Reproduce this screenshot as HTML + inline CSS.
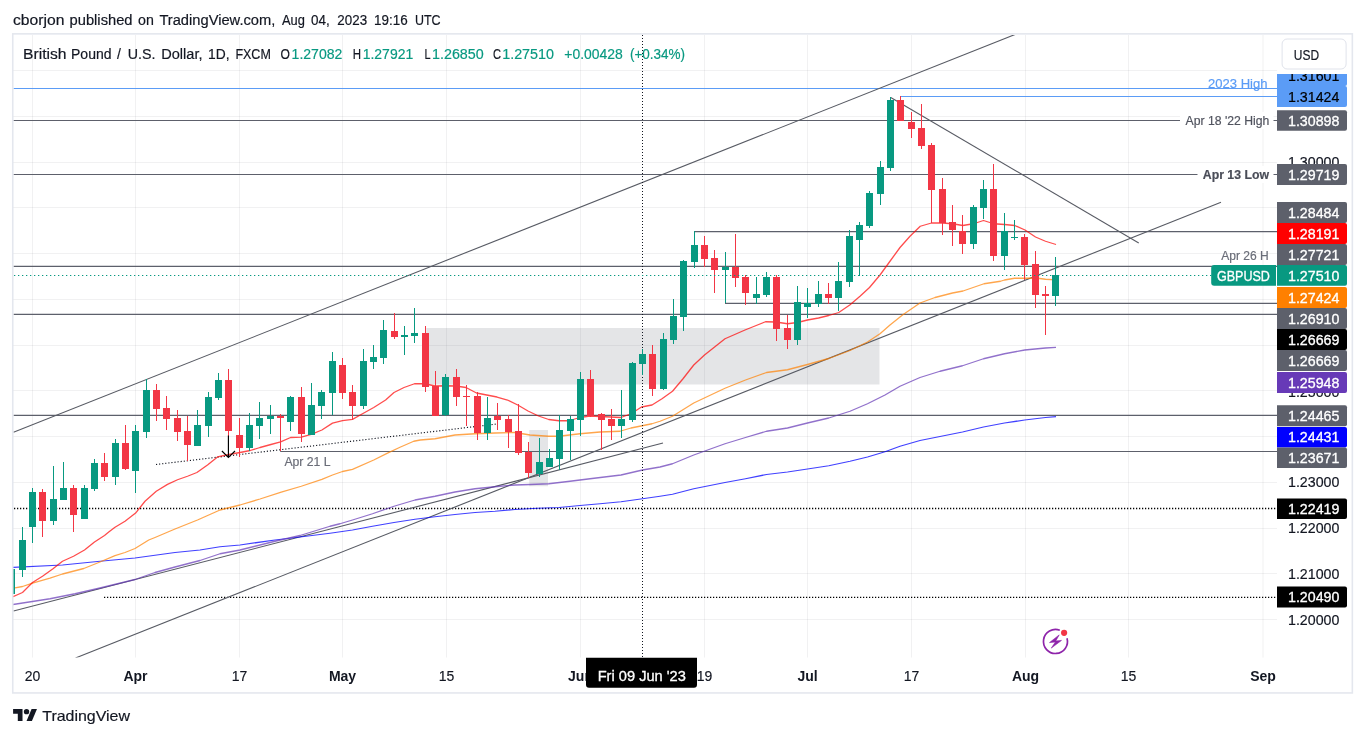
<!DOCTYPE html>
<html lang="en"><head><meta charset="utf-8"><title>GBPUSD chart</title>
<style>html,body{margin:0;padding:0;background:#fff;overflow:hidden}svg{display:block}text{font-family:"Liberation Sans",sans-serif;}</style></head><body>
<svg width="1365" height="737" viewBox="0 0 1365 737">
<rect width="1365" height="737" fill="#ffffff"/>
<defs><clipPath id="pane"><rect x="13.5" y="35.0" width="1263.5" height="622.5"/></clipPath>
<clipPath id="axclip"><rect x="1270" y="74" width="90" height="600"/></clipPath></defs>
<g id="title">
<text x="13.0" y="24.9" font-size="14" fill="#131722" stroke="#131722" stroke-width="0.18" textLength="51.4" lengthAdjust="spacingAndGlyphs">cborjon</text>
<text x="69.6" y="24.9" font-size="14" fill="#131722" stroke="#131722" stroke-width="0.18" textLength="62.9" lengthAdjust="spacingAndGlyphs">published</text>
<text x="138.0" y="24.9" font-size="14" fill="#131722" stroke="#131722" stroke-width="0.18" textLength="15.8" lengthAdjust="spacingAndGlyphs">on</text>
<text x="159.4" y="24.9" font-size="14" fill="#131722" stroke="#131722" stroke-width="0.18" textLength="115.9" lengthAdjust="spacingAndGlyphs">TradingView.com,</text>
<text x="282.0" y="24.9" font-size="14" fill="#131722" stroke="#131722" stroke-width="0.18" textLength="22.9" lengthAdjust="spacingAndGlyphs">Aug</text>
<text x="311.1" y="24.9" font-size="14" fill="#131722" stroke="#131722" stroke-width="0.18" textLength="18.7" lengthAdjust="spacingAndGlyphs">04,</text>
<text x="337.3" y="24.9" font-size="14" fill="#131722" stroke="#131722" stroke-width="0.18" textLength="29.8" lengthAdjust="spacingAndGlyphs">2023</text>
<text x="374.1" y="24.9" font-size="14" fill="#131722" stroke="#131722" stroke-width="0.18" textLength="33.6" lengthAdjust="spacingAndGlyphs">19:16</text>
<text x="415.0" y="24.9" font-size="14" fill="#131722" stroke="#131722" stroke-width="0.18" textLength="25.6" lengthAdjust="spacingAndGlyphs">UTC</text>
</g>
<rect x="12.75" y="33.85" width="1339.6" height="659.1" fill="#ffffff" stroke="#e4e7ee" stroke-width="1.6"/>
<g id="grid" stroke="#6a6d78" stroke-opacity="0.095" stroke-width="1">
<line x1="32.5" y1="35.0" x2="32.5" y2="657.5"/>
<line x1="135.5" y1="35.0" x2="135.5" y2="657.5"/>
<line x1="239.5" y1="35.0" x2="239.5" y2="657.5"/>
<line x1="342.5" y1="35.0" x2="342.5" y2="657.5"/>
<line x1="446.5" y1="35.0" x2="446.5" y2="657.5"/>
<line x1="580.5" y1="35.0" x2="580.5" y2="657.5"/>
<line x1="704.5" y1="35.0" x2="704.5" y2="657.5"/>
<line x1="807.5" y1="35.0" x2="807.5" y2="657.5"/>
<line x1="911.5" y1="35.0" x2="911.5" y2="657.5"/>
<line x1="1025.5" y1="35.0" x2="1025.5" y2="657.5"/>
<line x1="1128.5" y1="35.0" x2="1128.5" y2="657.5"/>
<line x1="1263.0" y1="35.0" x2="1263.0" y2="657.5"/>
<line x1="13.5" y1="70.5" x2="1277.0" y2="70.5"/>
<line x1="13.5" y1="116.5" x2="1277.0" y2="116.5"/>
<line x1="13.5" y1="162.5" x2="1277.0" y2="162.5"/>
<line x1="13.5" y1="207.5" x2="1277.0" y2="207.5"/>
<line x1="13.5" y1="253.5" x2="1277.0" y2="253.5"/>
<line x1="13.5" y1="299.5" x2="1277.0" y2="299.5"/>
<line x1="13.5" y1="345.5" x2="1277.0" y2="345.5"/>
<line x1="13.5" y1="390.5" x2="1277.0" y2="390.5"/>
<line x1="13.5" y1="436.5" x2="1277.0" y2="436.5"/>
<line x1="13.5" y1="482.5" x2="1277.0" y2="482.5"/>
<line x1="13.5" y1="528.5" x2="1277.0" y2="528.5"/>
<line x1="13.5" y1="573.5" x2="1277.0" y2="573.5"/>
<line x1="13.5" y1="619.5" x2="1277.0" y2="619.5"/>
</g>
<g clip-path="url(#pane)">
<rect x="426.3" y="328" width="453.2" height="56.5" fill="#787b86" fill-opacity="0.2"/>
<rect x="529.25" y="430" width="18.75" height="56.25" fill="#787b86" fill-opacity="0.2"/>
<line x1="13.5" y1="88.5" x2="1277.0" y2="88.5" stroke="#5b9cf6" stroke-width="1.15"/>
<line x1="900.5" y1="96.5" x2="1277.0" y2="96.5" stroke="#5b9cf6" stroke-width="1.15"/>
<line x1="13.5" y1="120.5" x2="1277.0" y2="120.5" stroke="#5d606b" stroke-width="1.15"/>
<line x1="13.5" y1="174.5" x2="1277.0" y2="174.5" stroke="#5d606b" stroke-width="1.15"/>
<line x1="694" y1="231.6" x2="1277.0" y2="231.6" stroke="#5d606b" stroke-width="1.15"/>
<line x1="13.5" y1="266.3" x2="1277.0" y2="266.3" stroke="#5d606b" stroke-width="1.15"/>
<line x1="725" y1="303.4" x2="1277.0" y2="303.4" stroke="#5d606b" stroke-width="1.15"/>
<line x1="13.5" y1="314.4" x2="1277.0" y2="314.4" stroke="#5d606b" stroke-width="1.15"/>
<line x1="13.5" y1="415.4" x2="1277.0" y2="415.4" stroke="#5d606b" stroke-width="1.15"/>
<line x1="280.2" y1="451.5" x2="1277.0" y2="451.5" stroke="#5d606b" stroke-width="1.15"/>
<line x1="14" y1="508.5" x2="1277.0" y2="508.5" stroke="#000" stroke-width="1.3" stroke-dasharray="1.25 1.75"/>
<line x1="104" y1="597.4" x2="1277.0" y2="597.4" stroke="#000" stroke-width="1.3" stroke-dasharray="1.25 1.75"/>
<line x1="13.5" y1="432.3" x2="1018.8" y2="33" stroke="#585b64" stroke-width="1.1"/>
<line x1="75.5" y1="658" x2="1221" y2="202.3" stroke="#585b64" stroke-width="1.1"/>
<line x1="13.5" y1="611" x2="663" y2="443" stroke="#585b64" stroke-width="1.1"/>
<line x1="890.75" y1="97.5" x2="1138.75" y2="243" stroke="#585b64" stroke-width="1.1"/>
<line x1="156" y1="464.5" x2="497.5" y2="423.9" stroke="#131722" stroke-width="1.15" stroke-dasharray="1.15 1.95"/>
<polyline fill="none" stroke="#0000ff" stroke-width="1.25" stroke-opacity="0.75" stroke-linejoin="round" points="13,567.5 62.5,565 100,561.25 135,558 175,552.5 200,550 220,546.75 240,545 275,540 300,537 330,533.25 352.5,530 372.5,526.25 394,522.5 415,519.25 435,516.75 455,514.5 475,512.5 495,511.25 515,509.5 537.5,508.25 559,507.5 580,505.5 600,503.75 621,501.75 642.5,498.75 660,496.25 672.5,494.25 693.75,488.75 725,482.5 745.5,478.75 766.5,474.5 787.5,472 807.5,469 828.75,465.75 850,461.25 867.5,457 885,451.75 900,446.25 920,440.5 940,436.5 962.5,432 983.5,427 1004.5,423 1024.75,420 1045.5,417.5 1056,416.7"/>
<polyline fill="none" stroke="#673ab7" stroke-width="1.3" stroke-opacity="0.72" stroke-linejoin="round" points="13,604.5 50,598.75 75,593.75 100,588 135,579.5 155,572.5 175,567 200,560.5 220,553.75 240,550 275,541.25 300,535.5 330,526.25 340,523.75 352.5,520 372.5,513.75 394,506.25 415,500 435,496.25 455,492 475,488.75 495,486.75 515,485 530,484.5 548.75,483.75 570,481.25 590,478.75 621,475 642.5,470 660,467 672.5,463.75 693.75,455 725,443.75 745.5,437.5 766.5,431.25 787.5,428 807.5,423 828.75,418 850,411.25 867.5,403.75 885,395 900,386.25 920,377.5 940,371.25 962.5,365.75 983.5,358.75 1004.5,353.75 1024.75,350 1045.5,348 1056,347.3"/>
<polyline fill="none" stroke="#ff8000" stroke-width="1.3" stroke-opacity="0.7" stroke-linejoin="round" points="15,587.9 22.5,586.5 32.5,583.1 50,578.1 62.5,574 83.75,568.5 98.75,562.5 115,555.6 125,552.5 135,548.5 148.75,540 155,537.5 175,529 197.5,520 220,510 240,505 260,499 281.25,492.1 301.25,486.25 321.9,479.4 332.5,475 342.5,471.5 352.5,469.4 373.75,460 387.5,453.1 400,447.25 413.75,441.25 420.25,440 435,438.75 455,435 475,433.75 495,433 515,432.5 530,435 548.75,436.25 559,436.25 580,433.75 600,432 620,431.25 631,428 652,423.75 660,421.25 672.5,416.25 693.75,403 725,388.25 745.5,380 766.5,372.5 787.5,369.75 807.5,364.5 828.75,358.5 850,350.5 867.5,342 880,333.75 890,325 902.5,315 920,303 935,297.5 952.5,293 963,291 984,283.75 1000.5,281.25 1004.5,280 1014.5,278.25 1024.75,278.25 1035.75,278 1045.5,279.25 1056,279.8"/>
<polyline fill="none" stroke="#ff0000" stroke-width="1.3" stroke-opacity="0.7" stroke-linejoin="round" points="13,596.75 22.5,592.5 32.5,582.5 42.5,576.25 53,568.75 62.5,561.25 73.5,556.25 84.5,550 94.5,542 104.5,535.5 108.75,532.1 115,527.3 125,521.25 135.6,513.1 145,501.25 156.25,491.25 167.5,484.4 177.5,479.75 187.5,476.25 196.9,472.5 207.5,465 217.5,456.9 227.5,454.75 240,452.5 250.25,450.5 260,447.5 270,444.75 280.6,441.9 290.6,437.5 301.25,437.1 311.25,434.4 321.9,430 332.5,423.1 342.5,420.6 352.5,419.4 362.5,413.75 373.75,407.5 385.6,400 394,392.5 404,387.5 414.5,383.75 425,383.75 435,386 445.5,385.75 455.75,386 466,387.5 476.5,393 486.75,395 497,397 507.5,400 517.75,405 528,411 538.5,416 548.75,419.5 559,420.75 569,420.75 579.75,417.5 590,416 600,416.5 610.5,417 621,417.5 631,413.75 641.5,407 652,405 662,398.75 672.5,391.25 683,378.75 693.75,365 704.5,355 725,338.75 745,330 765.5,321.75 775.75,322 787.5,323.75 797.5,322.5 807.5,320 818.5,318 828.75,315.5 838.75,312.5 849.75,305 860,296.25 869.5,287.5 880,275 890,261.25 900,247.5 910,236.25 920.25,226.25 931.5,223 942.5,223 952.5,223.75 962.75,225.5 973.5,223.75 983.5,220.5 993.75,223.75 1004.5,224.5 1014.75,225.5 1025,230 1035.5,237 1045.5,241.25 1056,244.5"/>
<line x1="642.5" y1="35.0" x2="642.5" y2="657.5" stroke="#131722" stroke-width="1" stroke-dasharray="1 2"/>
<g id="candles" shape-rendering="crispEdges">
<rect x="11" y="565.0" width="1" height="32.0" fill="#089981"/>
<rect x="8" y="569.0" width="7" height="25.0" fill="#089981"/>
<rect x="22" y="527.0" width="1" height="50.0" fill="#089981"/>
<rect x="19" y="540.0" width="7" height="29.5" fill="#089981"/>
<rect x="32" y="488.0" width="1" height="54.5" fill="#089981"/>
<rect x="29" y="492.0" width="7" height="35.0" fill="#089981"/>
<rect x="42" y="489.0" width="1" height="48.0" fill="#f23645"/>
<rect x="39" y="492.0" width="7" height="29.0" fill="#f23645"/>
<rect x="53" y="466.0" width="1" height="59.0" fill="#089981"/>
<rect x="50" y="499.0" width="7" height="22.0" fill="#089981"/>
<rect x="63" y="462.0" width="1" height="38.0" fill="#089981"/>
<rect x="60" y="488.0" width="7" height="12.0" fill="#089981"/>
<rect x="73" y="485.0" width="1" height="47.0" fill="#f23645"/>
<rect x="70" y="488.0" width="7" height="27.0" fill="#f23645"/>
<rect x="84" y="485.0" width="1" height="34.0" fill="#089981"/>
<rect x="81" y="488.0" width="7" height="31.0" fill="#089981"/>
<rect x="94" y="459.0" width="1" height="32.0" fill="#089981"/>
<rect x="91" y="463.0" width="7" height="26.0" fill="#089981"/>
<rect x="104" y="453.0" width="1" height="28.0" fill="#f23645"/>
<rect x="101" y="463.0" width="7" height="14.0" fill="#f23645"/>
<rect x="115" y="439.0" width="1" height="46.0" fill="#089981"/>
<rect x="112" y="443.0" width="7" height="34.0" fill="#089981"/>
<rect x="125" y="425.0" width="1" height="45.0" fill="#f23645"/>
<rect x="122" y="443.0" width="7" height="26.0" fill="#f23645"/>
<rect x="135" y="425.0" width="1" height="68.0" fill="#089981"/>
<rect x="132" y="431.0" width="7" height="40.0" fill="#089981"/>
<rect x="146" y="379.0" width="1" height="59.0" fill="#089981"/>
<rect x="143" y="390.0" width="7" height="42.0" fill="#089981"/>
<rect x="156" y="384.0" width="1" height="37.0" fill="#f23645"/>
<rect x="153" y="390.0" width="7" height="19.0" fill="#f23645"/>
<rect x="166" y="396.0" width="1" height="34.0" fill="#f23645"/>
<rect x="163" y="408.0" width="7" height="11.0" fill="#f23645"/>
<rect x="177" y="410.0" width="1" height="31.0" fill="#f23645"/>
<rect x="174" y="418.0" width="7" height="14.0" fill="#f23645"/>
<rect x="187" y="416.0" width="1" height="45.0" fill="#f23645"/>
<rect x="184" y="431.0" width="7" height="14.0" fill="#f23645"/>
<rect x="197" y="410.0" width="1" height="35.5" fill="#089981"/>
<rect x="194" y="425.0" width="7" height="20.5" fill="#089981"/>
<rect x="208" y="392.0" width="1" height="45.0" fill="#089981"/>
<rect x="205" y="397.0" width="7" height="29.0" fill="#089981"/>
<rect x="218" y="373.0" width="1" height="27.0" fill="#089981"/>
<rect x="215" y="380.0" width="7" height="18.0" fill="#089981"/>
<rect x="228" y="369.0" width="1" height="67.0" fill="#f23645"/>
<rect x="225" y="380.0" width="7" height="51.0" fill="#f23645"/>
<rect x="239" y="418.0" width="1" height="39.0" fill="#f23645"/>
<rect x="236" y="435.0" width="7" height="13.0" fill="#f23645"/>
<rect x="249" y="413.0" width="1" height="38.0" fill="#089981"/>
<rect x="246" y="425.0" width="7" height="23.0" fill="#089981"/>
<rect x="259" y="402.0" width="1" height="37.0" fill="#089981"/>
<rect x="256" y="418.0" width="7" height="8.0" fill="#089981"/>
<rect x="270" y="405.0" width="1" height="29.0" fill="#089981"/>
<rect x="267" y="416.0" width="7" height="3.0" fill="#089981"/>
<rect x="280" y="413.75" width="1" height="36.85" fill="#f23645"/>
<rect x="277" y="415.6" width="7" height="2.15" fill="#f23645"/>
<rect x="290" y="396.0" width="1" height="35.0" fill="#089981"/>
<rect x="287" y="397.0" width="7" height="25.0" fill="#089981"/>
<rect x="301" y="387.0" width="1" height="55.0" fill="#f23645"/>
<rect x="298" y="397.0" width="7" height="37.0" fill="#f23645"/>
<rect x="311" y="383.0" width="1" height="51.5" fill="#089981"/>
<rect x="308" y="405.0" width="7" height="29.5" fill="#089981"/>
<rect x="321" y="390.0" width="1" height="29.0" fill="#089981"/>
<rect x="318" y="392.0" width="7" height="14.0" fill="#089981"/>
<rect x="332" y="352.0" width="1" height="63.0" fill="#089981"/>
<rect x="329" y="361.0" width="7" height="32.0" fill="#089981"/>
<rect x="342" y="358.0" width="1" height="41.0" fill="#f23645"/>
<rect x="339" y="365.0" width="7" height="28.0" fill="#f23645"/>
<rect x="352" y="385.0" width="1" height="35.0" fill="#f23645"/>
<rect x="349" y="392.0" width="7" height="14.0" fill="#f23645"/>
<rect x="363" y="349.0" width="1" height="60.0" fill="#089981"/>
<rect x="360" y="361.0" width="7" height="45.0" fill="#089981"/>
<rect x="373" y="345.0" width="1" height="24.0" fill="#089981"/>
<rect x="370" y="357.0" width="7" height="5.0" fill="#089981"/>
<rect x="383" y="320.0" width="1" height="44.0" fill="#089981"/>
<rect x="380" y="330.0" width="7" height="28.0" fill="#089981"/>
<rect x="394" y="313.0" width="1" height="26.0" fill="#f23645"/>
<rect x="391" y="331.0" width="7" height="6.0" fill="#f23645"/>
<rect x="404" y="326.0" width="1" height="29.0" fill="#089981"/>
<rect x="401" y="335.0" width="7" height="2.0" fill="#089981"/>
<rect x="414" y="308.0" width="1" height="35.0" fill="#089981"/>
<rect x="411" y="333.0" width="7" height="3.0" fill="#089981"/>
<rect x="425" y="326.0" width="1" height="66.0" fill="#f23645"/>
<rect x="422" y="333.0" width="7" height="54.0" fill="#f23645"/>
<rect x="435" y="371.0" width="1" height="44.5" fill="#f23645"/>
<rect x="432" y="386.0" width="7" height="29.5" fill="#f23645"/>
<rect x="445" y="374.0" width="1" height="42.0" fill="#089981"/>
<rect x="442" y="377.0" width="7" height="37.5" fill="#089981"/>
<rect x="456" y="369.0" width="1" height="37.0" fill="#f23645"/>
<rect x="453" y="377.0" width="7" height="20.0" fill="#f23645"/>
<rect x="466" y="385.0" width="1" height="41.0" fill="#f23645"/>
<rect x="463" y="396.0" width="7" height="1.0" fill="#f23645"/>
<rect x="477" y="392.0" width="1" height="48.0" fill="#f23645"/>
<rect x="474" y="396.0" width="7" height="37.0" fill="#f23645"/>
<rect x="487" y="397.0" width="1" height="43.0" fill="#089981"/>
<rect x="484" y="418.0" width="7" height="15.0" fill="#089981"/>
<rect x="497" y="403.0" width="1" height="27.0" fill="#f23645"/>
<rect x="494" y="416.0" width="7" height="4.0" fill="#f23645"/>
<rect x="508" y="415.0" width="1" height="33.0" fill="#f23645"/>
<rect x="505" y="419.0" width="7" height="13.0" fill="#f23645"/>
<rect x="518" y="404.0" width="1" height="51.0" fill="#f23645"/>
<rect x="515" y="431.0" width="7" height="22.0" fill="#f23645"/>
<rect x="528" y="442.0" width="1" height="36.0" fill="#f23645"/>
<rect x="525" y="452.0" width="7" height="21.0" fill="#f23645"/>
<rect x="539" y="438.0" width="1" height="39.0" fill="#089981"/>
<rect x="536" y="462.0" width="7" height="12.0" fill="#089981"/>
<rect x="549" y="449.0" width="1" height="18.0" fill="#089981"/>
<rect x="546" y="458.0" width="7" height="9.0" fill="#089981"/>
<rect x="559" y="415.0" width="1" height="55.0" fill="#089981"/>
<rect x="556" y="430.0" width="7" height="29.0" fill="#089981"/>
<rect x="570" y="416.0" width="1" height="44.0" fill="#089981"/>
<rect x="567" y="419.0" width="7" height="12.0" fill="#089981"/>
<rect x="580" y="372.0" width="1" height="64.0" fill="#089981"/>
<rect x="577" y="379.0" width="7" height="41.0" fill="#089981"/>
<rect x="590" y="370.0" width="1" height="47.0" fill="#f23645"/>
<rect x="587" y="379.0" width="7" height="37.0" fill="#f23645"/>
<rect x="601" y="413.0" width="1" height="37.0" fill="#f23645"/>
<rect x="598" y="414.0" width="7" height="6.0" fill="#f23645"/>
<rect x="611" y="409.0" width="1" height="31.0" fill="#f23645"/>
<rect x="608" y="419.0" width="7" height="7.0" fill="#f23645"/>
<rect x="621" y="390.0" width="1" height="48.0" fill="#089981"/>
<rect x="618" y="419.0" width="7" height="7.0" fill="#089981"/>
<rect x="632" y="362.0" width="1" height="60.0" fill="#089981"/>
<rect x="629" y="363.0" width="7" height="57.0" fill="#089981"/>
<rect x="642" y="349.0" width="1" height="26.0" fill="#089981"/>
<rect x="639" y="354.0" width="7" height="10.0" fill="#089981"/>
<rect x="652" y="345.0" width="1" height="51.0" fill="#f23645"/>
<rect x="649" y="354.0" width="7" height="35.0" fill="#f23645"/>
<rect x="663" y="333.0" width="1" height="57.0" fill="#089981"/>
<rect x="660" y="339.0" width="7" height="50.0" fill="#089981"/>
<rect x="673" y="299.0" width="1" height="45.0" fill="#089981"/>
<rect x="670" y="316.0" width="7" height="24.0" fill="#089981"/>
<rect x="683" y="260.0" width="1" height="71.0" fill="#089981"/>
<rect x="680" y="261.0" width="7" height="56.0" fill="#089981"/>
<rect x="694" y="231.0" width="1" height="36.5" fill="#089981"/>
<rect x="691" y="245.0" width="7" height="17.0" fill="#089981"/>
<rect x="704" y="236.0" width="1" height="31.0" fill="#f23645"/>
<rect x="701" y="245.0" width="7" height="14.0" fill="#f23645"/>
<rect x="714" y="250.0" width="1" height="43.0" fill="#f23645"/>
<rect x="711" y="258.0" width="7" height="12.0" fill="#f23645"/>
<rect x="725" y="252.0" width="1" height="51.0" fill="#089981"/>
<rect x="722" y="267.0" width="7" height="3.0" fill="#089981"/>
<rect x="735" y="234.0" width="1" height="53.0" fill="#f23645"/>
<rect x="732" y="266.5" width="7" height="11.5" fill="#f23645"/>
<rect x="745" y="275.0" width="1" height="30.0" fill="#f23645"/>
<rect x="742" y="277.0" width="7" height="16.0" fill="#f23645"/>
<rect x="756" y="277.0" width="1" height="27.0" fill="#089981"/>
<rect x="753" y="294.0" width="7" height="4.0" fill="#089981"/>
<rect x="766" y="272.0" width="1" height="25.0" fill="#089981"/>
<rect x="763" y="277.0" width="7" height="18.0" fill="#089981"/>
<rect x="776" y="275.0" width="1" height="66.0" fill="#f23645"/>
<rect x="773" y="277.0" width="7" height="52.0" fill="#f23645"/>
<rect x="787" y="315.0" width="1" height="34.0" fill="#f23645"/>
<rect x="784" y="328.0" width="7" height="12.0" fill="#f23645"/>
<rect x="797" y="286.0" width="1" height="59.0" fill="#089981"/>
<rect x="794" y="302.0" width="7" height="38.0" fill="#089981"/>
<rect x="807" y="288.0" width="1" height="30.0" fill="#089981"/>
<rect x="804" y="303.0" width="7" height="4.0" fill="#089981"/>
<rect x="818" y="281.0" width="1" height="26.0" fill="#089981"/>
<rect x="815" y="294.0" width="7" height="10.0" fill="#089981"/>
<rect x="828" y="283.0" width="1" height="21.0" fill="#f23645"/>
<rect x="825" y="294.0" width="7" height="4.0" fill="#f23645"/>
<rect x="838" y="262.0" width="1" height="49.0" fill="#089981"/>
<rect x="835" y="281.0" width="7" height="17.0" fill="#089981"/>
<rect x="849" y="230.0" width="1" height="57.0" fill="#089981"/>
<rect x="846" y="236.0" width="7" height="46.0" fill="#089981"/>
<rect x="859" y="222.0" width="1" height="54.0" fill="#089981"/>
<rect x="856" y="225.0" width="7" height="15.0" fill="#089981"/>
<rect x="869" y="191.0" width="1" height="37.0" fill="#089981"/>
<rect x="866" y="193.0" width="7" height="33.0" fill="#089981"/>
<rect x="880" y="161.0" width="1" height="44.0" fill="#089981"/>
<rect x="877" y="167.0" width="7" height="27.0" fill="#089981"/>
<rect x="890" y="97.0" width="1" height="74.0" fill="#089981"/>
<rect x="887" y="100.0" width="7" height="68.0" fill="#089981"/>
<rect x="900" y="96.0" width="1" height="25.0" fill="#f23645"/>
<rect x="897" y="100.0" width="7" height="21.0" fill="#f23645"/>
<rect x="911" y="112.0" width="1" height="26.0" fill="#f23645"/>
<rect x="908" y="122.0" width="7" height="7.0" fill="#f23645"/>
<rect x="921" y="104.0" width="1" height="45.0" fill="#f23645"/>
<rect x="918" y="128.0" width="7" height="18.0" fill="#f23645"/>
<rect x="931" y="143.0" width="1" height="79.5" fill="#f23645"/>
<rect x="928" y="145.0" width="7" height="45.0" fill="#f23645"/>
<rect x="942" y="178.0" width="1" height="57.0" fill="#f23645"/>
<rect x="939" y="189.0" width="7" height="34.0" fill="#f23645"/>
<rect x="952" y="205.0" width="1" height="41.0" fill="#f23645"/>
<rect x="949" y="222.0" width="7" height="8.0" fill="#f23645"/>
<rect x="962" y="215.0" width="1" height="39.0" fill="#f23645"/>
<rect x="959" y="231.0" width="7" height="13.0" fill="#f23645"/>
<rect x="973" y="205.0" width="1" height="44.0" fill="#089981"/>
<rect x="970" y="207.0" width="7" height="37.0" fill="#089981"/>
<rect x="983" y="180.0" width="1" height="39.0" fill="#089981"/>
<rect x="980" y="189.0" width="7" height="19.0" fill="#089981"/>
<rect x="993" y="164.0" width="1" height="97.0" fill="#f23645"/>
<rect x="990" y="189.0" width="7" height="67.0" fill="#f23645"/>
<rect x="1004" y="213.0" width="1" height="57.0" fill="#089981"/>
<rect x="1001" y="231.0" width="7" height="25.0" fill="#089981"/>
<rect x="1014" y="220.0" width="1" height="20.0" fill="#089981"/>
<rect x="1011" y="236.5" width="7" height="1.5" fill="#089981"/>
<rect x="1024" y="234.0" width="1" height="46.0" fill="#f23645"/>
<rect x="1021" y="237.0" width="7" height="28.0" fill="#f23645"/>
<rect x="1035" y="251.0" width="1" height="57.0" fill="#f23645"/>
<rect x="1032" y="264.0" width="7" height="31.0" fill="#f23645"/>
<rect x="1045" y="286.0" width="1" height="49.0" fill="#f23645"/>
<rect x="1042" y="294.0" width="7" height="2.0" fill="#f23645"/>
<rect x="1055" y="257.0" width="1" height="49.0" fill="#089981"/>
<rect x="1052" y="275.0" width="7" height="21.0" fill="#089981"/>
</g>
<line x1="14.0" y1="275.5" x2="1277.0" y2="275.5" stroke="#089981" stroke-width="1.2" stroke-dasharray="1.3 2.7"/>
<path d="M228.4 435.6V457.2M221.9 451L228.4 457.5L235 451" fill="none" stroke="#000" stroke-width="1.15"/>
</g>
<rect x="1180" y="112" width="93.5" height="17" fill="#fff"/>
<rect x="1197.5" y="166" width="76" height="17" fill="#fff"/>
<text x="1208" y="88.1" font-size="12.5" fill="#5b9cf6" stroke="#5b9cf6" stroke-width="0.18" textLength="59.5" lengthAdjust="spacingAndGlyphs">2023 High</text>
<text x="1185.6" y="125" font-size="12" fill="#50535e" stroke="#50535e" stroke-width="0.18" textLength="83.8" lengthAdjust="spacingAndGlyphs">Apr 18 '22 High</text>
<text x="1202.75" y="178.5" font-size="12" fill="#4a4d58" stroke="#4a4d58" stroke-width="0.18" textLength="66.25" lengthAdjust="spacingAndGlyphs" font-weight="bold">Apr 13 Low</text>
<text x="1221.25" y="260" font-size="12" fill="#6a6d78" stroke="#6a6d78" stroke-width="0.18" textLength="47.5" lengthAdjust="spacingAndGlyphs">Apr 26 H</text>
<text x="284.4" y="466" font-size="12" fill="#6a6d78" stroke="#6a6d78" stroke-width="0.18" textLength="46.2" lengthAdjust="spacingAndGlyphs">Apr 21 L</text>
<g id="legend">
<text x="23.0" y="58.9" font-size="14" fill="#131722" stroke="#131722" stroke-width="0.18" textLength="43.5" lengthAdjust="spacingAndGlyphs">British</text>
<text x="71.0" y="58.9" font-size="14" fill="#131722" stroke="#131722" stroke-width="0.18" textLength="40.5" lengthAdjust="spacingAndGlyphs">Pound</text>
<text x="117.0" y="58.9" font-size="14" fill="#131722" stroke="#131722" stroke-width="0.18">/</text>
<text x="127.8" y="58.9" font-size="14" fill="#131722" stroke="#131722" stroke-width="0.18" textLength="27.7" lengthAdjust="spacingAndGlyphs">U.S.</text>
<text x="161.2" y="58.9" font-size="14" fill="#131722" stroke="#131722" stroke-width="0.18" textLength="41.3" lengthAdjust="spacingAndGlyphs">Dollar,</text>
<text x="208.0" y="58.9" font-size="14" fill="#131722" stroke="#131722" stroke-width="0.18" textLength="21.5" lengthAdjust="spacingAndGlyphs">1D,</text>
<text x="235.4" y="58.9" font-size="14" fill="#131722" stroke="#131722" stroke-width="0.18" textLength="35.4" lengthAdjust="spacingAndGlyphs">FXCM</text>
<text x="280.4" y="58.9" font-size="14" fill="#131722" stroke="#131722" stroke-width="0.18" textLength="9.4" lengthAdjust="spacingAndGlyphs">O</text>
<text x="291.6" y="58.9" font-size="14" fill="#089981" stroke="#089981" stroke-width="0.18" textLength="50.7" lengthAdjust="spacingAndGlyphs">1.27082</text>
<text x="352.7" y="58.9" font-size="14" fill="#131722" stroke="#131722" stroke-width="0.18" textLength="8.3" lengthAdjust="spacingAndGlyphs">H</text>
<text x="362.7" y="58.9" font-size="14" fill="#089981" stroke="#089981" stroke-width="0.18" textLength="50.5" lengthAdjust="spacingAndGlyphs">1.27921</text>
<text x="424.4" y="58.9" font-size="14" fill="#131722" stroke="#131722" stroke-width="0.18" textLength="6.1" lengthAdjust="spacingAndGlyphs">L</text>
<text x="432.0" y="58.9" font-size="14" fill="#089981" stroke="#089981" stroke-width="0.18" textLength="51.7" lengthAdjust="spacingAndGlyphs">1.26850</text>
<text x="493.0" y="58.9" font-size="14" fill="#131722" stroke="#131722" stroke-width="0.18" textLength="8.0" lengthAdjust="spacingAndGlyphs">C</text>
<text x="502.2" y="58.9" font-size="14" fill="#089981" stroke="#089981" stroke-width="0.18" textLength="51.8" lengthAdjust="spacingAndGlyphs">1.27510</text>
<text x="564.3" y="58.9" font-size="14" fill="#089981" stroke="#089981" stroke-width="0.18" textLength="58.5" lengthAdjust="spacingAndGlyphs">+0.00428</text>
<text x="630.0" y="58.9" font-size="14" fill="#089981" stroke="#089981" stroke-width="0.18" textLength="55.1" lengthAdjust="spacingAndGlyphs">(+0.34%)</text>
</g>
<line x1="642.5" y1="35" x2="642.5" y2="70" stroke="#131722" stroke-width="1" stroke-dasharray="1 2"/>
<g id="axis">
<text x="1288" y="166.79999999999998" font-size="14" fill="#131722" stroke="#131722" stroke-width="0.18" textLength="51.4" lengthAdjust="spacingAndGlyphs">1.30000</text>
<text x="1288" y="396.70000000000005" font-size="14" fill="#131722" stroke="#131722" stroke-width="0.18" textLength="51.4" lengthAdjust="spacingAndGlyphs">1.25000</text>
<text x="1288" y="487.3" font-size="14" fill="#131722" stroke="#131722" stroke-width="0.18" textLength="51.4" lengthAdjust="spacingAndGlyphs">1.23000</text>
<text x="1288" y="533.1" font-size="14" fill="#131722" stroke="#131722" stroke-width="0.18" textLength="51.4" lengthAdjust="spacingAndGlyphs">1.22000</text>
<text x="1288" y="579.1" font-size="14" fill="#131722" stroke="#131722" stroke-width="0.18" textLength="51.4" lengthAdjust="spacingAndGlyphs">1.21000</text>
<text x="1288" y="624.5" font-size="14" fill="#131722" stroke="#131722" stroke-width="0.18" textLength="51.4" lengthAdjust="spacingAndGlyphs">1.20000</text>
<g clip-path="url(#axclip)">
<path d="M1277 65 H1345 a2 2 0 0 1 2 2 V84 a2 2 0 0 1 -2 2 H1277 Z" fill="#5b9cf6"/>
<text x="1288" y="80.6" font-size="14" fill="#000" stroke="#000" stroke-width="0.18" textLength="51.4" lengthAdjust="spacingAndGlyphs">1.31601</text>
<path d="M1277 86 H1345 a2 2 0 0 1 2 2 V105 a2 2 0 0 1 -2 2 H1277 Z" fill="#5b9cf6"/>
<text x="1288" y="101.6" font-size="14" fill="#000" stroke="#000" stroke-width="0.18" textLength="51.4" lengthAdjust="spacingAndGlyphs">1.31424</text>
<path d="M1277 110.2 H1345 a2 2 0 0 1 2 2 V128.8 a2 2 0 0 1 -2 2 H1277 Z" fill="#5d606b"/>
<text x="1288" y="125.6" font-size="14" fill="#fff" stroke="#fff" stroke-width="0.3" textLength="51.4" lengthAdjust="spacingAndGlyphs">1.30898</text>
<path d="M1277 164 H1345 a2 2 0 0 1 2 2 V183 a2 2 0 0 1 -2 2 H1277 Z" fill="#5d606b"/>
<text x="1288" y="179.6" font-size="14" fill="#fff" stroke="#fff" stroke-width="0.3" textLength="51.4" lengthAdjust="spacingAndGlyphs">1.29719</text>
<path d="M1277 202 H1345 a2 2 0 0 1 2 2 V221 a2 2 0 0 1 -2 2 H1277 Z" fill="#5d606b"/>
<text x="1288" y="217.6" font-size="14" fill="#fff" stroke="#fff" stroke-width="0.3" textLength="51.4" lengthAdjust="spacingAndGlyphs">1.28484</text>
<path d="M1277 223 H1345 a2 2 0 0 1 2 2 V242.1 a2 2 0 0 1 -2 2 H1277 Z" fill="#ff0000"/>
<text x="1288" y="238.7" font-size="14" fill="#fff" stroke="#fff" stroke-width="0.3" textLength="51.4" lengthAdjust="spacingAndGlyphs">1.28191</text>
<path d="M1277 244.1 H1345 a2 2 0 0 1 2 2 V262.9 a2 2 0 0 1 -2 2 H1277 Z" fill="#5d606b"/>
<text x="1288" y="259.6" font-size="14" fill="#fff" stroke="#fff" stroke-width="0.3" textLength="51.4" lengthAdjust="spacingAndGlyphs">1.27721</text>
<path d="M1277 264.9 H1345 a2 2 0 0 1 2 2 V283.8 a2 2 0 0 1 -2 2 H1277 Z" fill="#089981"/>
<text x="1288" y="280.5" font-size="14" fill="#fff" stroke="#fff" stroke-width="0.3" textLength="51.4" lengthAdjust="spacingAndGlyphs">1.27510</text>
<path d="M1277 287.1 H1345 a2 2 0 0 1 2 2 V306.1 a2 2 0 0 1 -2 2 H1277 Z" fill="#ff8000"/>
<text x="1288" y="302.7" font-size="14" fill="#fff" stroke="#fff" stroke-width="0.3" textLength="51.4" lengthAdjust="spacingAndGlyphs">1.27424</text>
<path d="M1277 308.1 H1345 a2 2 0 0 1 2 2 V327.1 a2 2 0 0 1 -2 2 H1277 Z" fill="#5d606b"/>
<text x="1288" y="323.7" font-size="14" fill="#fff" stroke="#fff" stroke-width="0.3" textLength="51.4" lengthAdjust="spacingAndGlyphs">1.26910</text>
<path d="M1277 329.1 H1345 a2 2 0 0 1 2 2 V348 a2 2 0 0 1 -2 2 H1277 Z" fill="#000000"/>
<text x="1288" y="344.7" font-size="14" fill="#fff" stroke="#fff" stroke-width="0.3" textLength="51.4" lengthAdjust="spacingAndGlyphs">1.26669</text>
<path d="M1277 350 H1345 a2 2 0 0 1 2 2 V369 a2 2 0 0 1 -2 2 H1277 Z" fill="#5d606b"/>
<text x="1288" y="365.6" font-size="14" fill="#fff" stroke="#fff" stroke-width="0.3" textLength="51.4" lengthAdjust="spacingAndGlyphs">1.26669</text>
<path d="M1277 372.1 H1345 a2 2 0 0 1 2 2 V391 a2 2 0 0 1 -2 2 H1277 Z" fill="#673ab7"/>
<text x="1288" y="387.7" font-size="14" fill="#fff" stroke="#fff" stroke-width="0.3" textLength="51.4" lengthAdjust="spacingAndGlyphs">1.25948</text>
<path d="M1277 405.25 H1345 a2 2 0 0 1 2 2 V424.2 a2 2 0 0 1 -2 2 H1277 Z" fill="#5d606b"/>
<text x="1288" y="420.8" font-size="14" fill="#fff" stroke="#fff" stroke-width="0.3" textLength="51.4" lengthAdjust="spacingAndGlyphs">1.24465</text>
<path d="M1277 426.9 H1345 a2 2 0 0 1 2 2 V445.5 a2 2 0 0 1 -2 2 H1277 Z" fill="#0000ff"/>
<text x="1288" y="442.3" font-size="14" fill="#fff" stroke="#fff" stroke-width="0.3" textLength="51.4" lengthAdjust="spacingAndGlyphs">1.24431</text>
<path d="M1277 447.5 H1345 a2 2 0 0 1 2 2 V466.1 a2 2 0 0 1 -2 2 H1277 Z" fill="#5d606b"/>
<text x="1288" y="462.9" font-size="14" fill="#fff" stroke="#fff" stroke-width="0.3" textLength="51.4" lengthAdjust="spacingAndGlyphs">1.23671</text>
<path d="M1277 498.4 H1345 a2 2 0 0 1 2 2 V517.1 a2 2 0 0 1 -2 2 H1277 Z" fill="#000000"/>
<text x="1288" y="513.9" font-size="14" fill="#fff" stroke="#fff" stroke-width="0.3" textLength="51.4" lengthAdjust="spacingAndGlyphs">1.22419</text>
<path d="M1277 586.5 H1345 a2 2 0 0 1 2 2 V605.5 a2 2 0 0 1 -2 2 H1277 Z" fill="#000000"/>
<text x="1288" y="602.1" font-size="14" fill="#fff" stroke="#fff" stroke-width="0.3" textLength="51.4" lengthAdjust="spacingAndGlyphs">1.20490</text>
</g>
<path d="M1276 265 H1214.2 a3 3 0 0 0 -3 3 V282.7 a3 3 0 0 0 3 3 H1276 Z" fill="#089981"/>
<text x="1216.9" y="280.9" font-size="14" fill="#fff" stroke="#fff" stroke-width="0.3" textLength="53" lengthAdjust="spacingAndGlyphs">GBPUSD</text>
<rect x="1282.1" y="39" width="64" height="30" rx="5" ry="5" fill="#fff" stroke="#e0e3eb" stroke-width="1"/>
<text x="1293.75" y="59.6" font-size="14" fill="#131722" stroke="#131722" stroke-width="0.18" textLength="25.3" lengthAdjust="spacingAndGlyphs">USD</text>
</g>
<g id="time">
<text x="32.5" y="680.9" font-size="14" fill="#131722" stroke="#131722" stroke-width="0.15" text-anchor="middle">20</text>
<text x="135.5" y="680.9" font-size="14" fill="#131722" font-weight="bold" text-anchor="middle">Apr</text>
<text x="239.5" y="680.9" font-size="14" fill="#131722" stroke="#131722" stroke-width="0.15" text-anchor="middle">17</text>
<text x="342.5" y="680.9" font-size="14" fill="#131722" font-weight="bold" text-anchor="middle">May</text>
<text x="446.5" y="680.9" font-size="14" fill="#131722" stroke="#131722" stroke-width="0.15" text-anchor="middle">15</text>
<text x="580.5" y="680.9" font-size="14" fill="#131722" font-weight="bold" text-anchor="middle">Jun</text>
<text x="704.5" y="680.9" font-size="14" fill="#131722" stroke="#131722" stroke-width="0.15" text-anchor="middle">19</text>
<text x="807.5" y="680.9" font-size="14" fill="#131722" font-weight="bold" text-anchor="middle">Jul</text>
<text x="911.5" y="680.9" font-size="14" fill="#131722" stroke="#131722" stroke-width="0.15" text-anchor="middle">17</text>
<text x="1025.5" y="680.9" font-size="14" fill="#131722" font-weight="bold" text-anchor="middle">Aug</text>
<text x="1128.5" y="680.9" font-size="14" fill="#131722" stroke="#131722" stroke-width="0.15" text-anchor="middle">15</text>
<text x="1263.0" y="680.9" font-size="14" fill="#131722" font-weight="bold" text-anchor="middle">Sep</text>
<path d="M586 657.7 H697 V684.7 a3 3 0 0 1 -3 3 H589 a3 3 0 0 1 -3 -3 Z" fill="#000"/>
<text x="597.7" y="680.8" font-size="14" fill="#fff" stroke="#fff" stroke-width="0.3" textLength="88.2" lengthAdjust="spacingAndGlyphs">Fri 09 Jun '23</text>
</g>
<g id="bolt" fill="none" stroke="#8e24aa" stroke-width="1.7">
<path d="M1059.8 630.3 A12 12 0 1 0 1067 638.2"/>
<path d="M1059.2 634.9 L1049.5 642.6 L1055.4 642 L1051.3 648.1 L1061.5 640.4 L1055.8 640.9 Z" fill="#8e24aa" stroke-width="0.6"/>
</g>
<circle cx="1064.1" cy="632.8" r="3.1" fill="#f23645"/>
<g transform="translate(13.1 706.3) scale(0.672)" fill="#131722"><path d="M14 22H7V11H0V4h14v18z"/><circle cx="20" cy="8" r="4"/><path d="M28 22h-8l7.5-18h8L28 22z"/></g>
<text x="42.25" y="720.6" font-size="15" fill="#131722" stroke="#131722" stroke-width="0.18" textLength="87.75" lengthAdjust="spacingAndGlyphs">TradingView</text>
</svg></body></html>
